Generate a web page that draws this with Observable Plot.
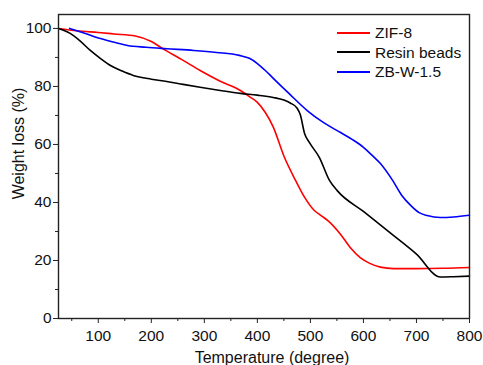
<!DOCTYPE html>
<html><head><meta charset="utf-8">
<script src="https://cdn.jsdelivr.net/npm/d3@7"></script>
<script src="https://cdn.jsdelivr.net/npm/@observablehq/plot@0.6"></script>
<style>
body{margin:0;background:#fff;font-family:"Liberation Sans",Arial,sans-serif;}
#wrap{position:relative;width:483px;height:365px;}
#legend{position:absolute;left:337px;top:23px;font-size:15.5px;color:#111;line-height:19.5px;}
#legend div{display:flex;align-items:center;}
#legend span.l{display:inline-block;width:33px;height:0;border-top:2px solid;margin-right:5px;}
</style></head>
<body><div id="wrap"><div id="legend"></div></div>
<script>
const seriesNames = ["ZIF-8", "Resin beads", "ZB-W-1.5"];
const seriesColors = ["#ff0000", "#000000", "#0000ff"];
const zif8T = [25, 60, 100, 130, 170, 200, 220, 260, 292, 330, 368, 385, 400, 415, 430, 450, 472, 490, 506, 520, 534, 557, 575, 594, 612, 632, 657, 700, 750, 800];
const zif8W = [100, 99.2, 98.6, 98.1, 97.4, 95.5, 93.2, 89, 85.5, 81.8, 78.6, 76.5, 74.5, 71, 66, 56, 47.6, 41.5, 37.5, 35.5, 33.6, 29, 24.5, 21, 19, 17.7, 17.2, 17.2, 17.3, 17.6];
const resinT = [25, 47, 65, 85, 105, 123, 145, 166, 200, 229, 260, 292, 330, 368, 400, 430, 450, 462, 475, 481, 489, 498, 517, 536, 551, 600, 650, 700, 745, 770, 800];
const resinW = [100, 98.3, 95.8, 92.4, 89.5, 87.2, 85.3, 83.8, 82.5, 81.7, 80.7, 79.7, 78.6, 77.6, 77, 76.2, 75.3, 74.3, 72.5, 70.2, 63.8, 60.7, 55.5, 47.6, 44, 36.9, 29.6, 22.2, 14.3, 14.4, 14.6];
const zbT = [46, 70, 104, 130, 155, 190, 229, 280, 323, 366, 385, 400, 415, 430, 460, 494, 525, 557, 580, 600, 615, 632, 655, 672, 689, 705, 720, 745, 770, 800];
const zbW = [100, 98.6, 96.5, 95.2, 94.1, 93.5, 93, 92.4, 91.7, 90.7, 89.7, 87.9, 85.5, 82.8, 77.5, 71.7, 67.5, 64.1, 61.6, 59, 56.5, 53.4, 47.6, 42.5, 39, 36.5, 35.5, 34.8, 35, 35.6];
const xTicks = [100, 200, 300, 400, 500, 600, 700, 800];
const xMinor = [50, 150, 250, 350, 450, 550, 650, 750];
const yTicks = [0, 20, 40, 60, 80, 100];
const yMinor = [10, 30, 50, 70, 90];

const sets = [[zif8T, zif8W], [resinT, resinW], [zbT, zbW]];
const data = sets.flatMap(([t, w], i) => t.map((x, j) => ({T: x, W: w[j], s: seriesNames[i]})));

const axisColor = "#222";
const chart = Plot.plot({
  width: 483, height: 365,
  marginLeft: 58, marginRight: 14, marginTop: 14, marginBottom: 47,
  style: {fontFamily: '"Liberation Sans", Arial, sans-serif', fontSize: "15.5px", color: "#111", background: "#fff"},
  x: {domain: [25, 800]},
  y: {domain: [0, 104.8]},
  color: {domain: seriesNames, range: seriesColors},
  marks: [
    Plot.line(data, {x: "T", y: "W", z: "s", stroke: "s", strokeWidth: 1.6, curve: "monotone-x"}),
    Plot.frame({stroke: axisColor, strokeWidth: 1.4}),
    Plot.axisX({ticks: xTicks, tickSize: 5, tickPadding: 6, fontSize: 15.5, stroke: axisColor, label: null}),
    Plot.axisX({ticks: xMinor, tickSize: 3, text: null, stroke: axisColor, label: null}),
    Plot.axisY({ticks: yTicks, tickSize: 5, tickPadding: 2, fontSize: 15.5, stroke: axisColor, label: null}),
    Plot.axisY({ticks: yMinor, tickSize: 3, text: null, stroke: axisColor, label: null}),
    Plot.text(["Temperature (degree)"], {frameAnchor: "bottom", dx: 8, dy: 44, fill: "#111", fontSize: 16}),
    Plot.text(["Weight loss (%)"], {frameAnchor: "left", textAnchor: "middle", lineAnchor: "middle", dx: -40, dy: -23, rotate: -90, fill: "#111", fontSize: 16})
  ]
});
document.getElementById("wrap").prepend(chart);
const leg = document.getElementById("legend");
seriesNames.forEach((n, i) => {
  const d = document.createElement("div");
  d.innerHTML = `<span class="l" style="border-color:${seriesColors[i]}"></span>${n}`;
  leg.appendChild(d);
});
</script></body></html>
